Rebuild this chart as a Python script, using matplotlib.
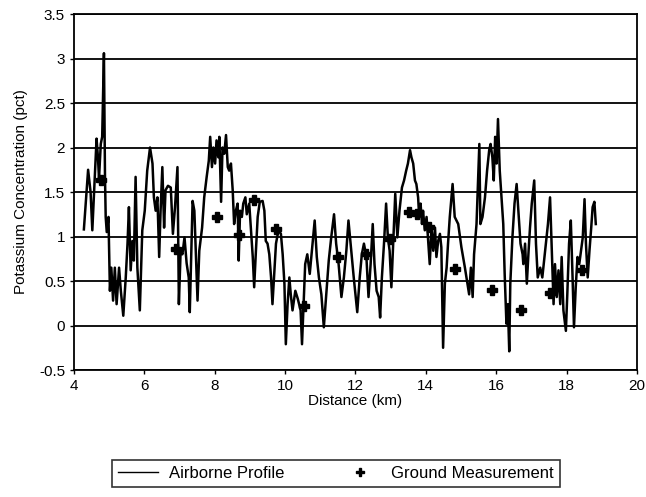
import numpy as np
import matplotlib
matplotlib.use("Agg")
import matplotlib.pyplot as plt

plt.rcParams['font.family'] = ['Liberation Sans', 'DejaVu Sans']

# airborne profile (km, pct)
dist = [4.28, 4.40, 4.47, 4.52, 4.59, 4.64, 4.68, 4.71, 4.76, 4.80, 4.85, 4.88, 4.90, 4.93,
        4.98, 4.99, 5.02, 5.06, 5.11, 5.16, 5.21, 5.28, 5.33, 5.40, 5.47, 5.52, 5.56, 5.61,
        5.66, 5.70, 5.75, 5.80, 5.87, 5.94, 6.01, 6.08, 6.16, 6.23, 6.27, 6.32, 6.37, 6.42,
        6.46, 6.51, 6.56, 6.60, 6.67, 6.75, 6.81, 6.87, 6.94, 6.98, 7.03, 7.08, 7.14, 7.20,
        7.26, 7.29, 7.37, 7.42, 7.47, 7.51, 7.56, 7.64, 7.70, 7.77, 7.83, 7.87, 7.92, 7.96,
        8.01, 8.05, 8.10, 8.13, 8.18, 8.22, 8.27, 8.32, 8.37, 8.41, 8.46, 8.51, 8.55, 8.60,
        8.65, 8.68, 8.72, 8.77, 8.81, 8.87, 8.91, 8.98, 9.03, 9.08, 9.12, 9.17, 9.22, 9.28,
        9.36, 9.41, 9.45, 9.50, 9.55, 9.60, 9.64, 9.69, 9.74, 9.81, 9.88, 9.93, 9.98, 10.02,
        10.07, 10.12, 10.16, 10.21, 10.29, 10.36, 10.44, 10.48, 10.53, 10.57, 10.63, 10.70,
        10.76, 10.84, 10.90, 10.96, 11.03, 11.10, 11.17, 11.24, 11.31, 11.39, 11.45, 11.52,
        11.60, 11.67, 11.74, 11.80, 11.88, 11.95, 12.05, 12.12, 12.18, 12.24, 12.31, 12.37,
        12.43, 12.49, 12.54, 12.60, 12.66, 12.70, 12.75, 12.81, 12.87, 12.92, 12.97, 13.02,
        13.07, 13.13, 13.19, 13.25, 13.32, 13.38, 13.44, 13.49, 13.55, 13.59, 13.64, 13.69,
        13.73, 13.78, 13.81, 13.85, 13.89, 13.92, 13.97, 14.02, 14.07, 14.11, 14.16, 14.21,
        14.26, 14.30, 14.35, 14.40, 14.44, 14.49, 14.54, 14.59, 14.63, 14.68, 14.76, 14.82,
        14.92, 15.01, 15.11, 15.17, 15.23, 15.28, 15.33, 15.37, 15.44, 15.52, 15.55, 15.61,
        15.68, 15.74, 15.80, 15.84, 15.89, 15.93, 15.97, 16.01, 16.05, 16.10, 16.15, 16.20,
        16.24, 16.29, 16.33, 16.37, 16.40, 16.46, 16.52, 16.58, 16.63, 16.69, 16.75, 16.77,
        16.82, 16.87, 16.92, 16.96, 17.01, 17.08, 17.13, 17.18, 17.25, 17.31, 17.39, 17.47,
        17.53, 17.58, 17.63, 17.67, 17.72, 17.77, 17.82, 17.86, 17.91, 17.98, 18.02, 18.07,
        18.12, 18.17, 18.21, 18.26, 18.31, 18.36, 18.41, 18.46, 18.51, 18.55, 18.60, 18.65,
        18.70, 18.74, 18.79, 18.83]
conc = [1.08, 1.75, 1.50, 1.07, 1.67, 2.10, 1.89, 1.65, 2.04, 2.12, 3.06, 1.67, 1.22, 1.05,
        1.22, 0.99, 0.39, 0.65, 0.28, 0.65, 0.24, 0.65, 0.39, 0.11, 0.54, 0.92, 1.33, 0.62,
        0.95, 0.73, 1.67, 0.65, 0.17, 1.07, 1.29, 1.74, 2.00, 1.82, 1.44, 1.29, 1.44, 0.77,
        1.29, 1.78, 1.10, 1.52, 1.57, 1.55, 1.03, 1.33, 1.78, 0.24, 0.84, 0.80, 0.99, 0.70,
        0.54, 0.15, 1.40, 1.29, 0.73, 0.28, 0.84, 1.10, 1.44, 1.67, 1.85, 2.12, 1.78, 2.00,
        1.82, 2.08, 1.89, 2.12, 1.39, 2.00, 1.93, 2.14, 1.78, 1.74, 1.82, 1.52, 1.14, 1.29,
        1.37, 0.73, 1.29, 1.22, 1.37, 1.44, 1.25, 1.37, 1.07, 0.77, 0.43, 0.84, 1.22, 1.39,
        1.40, 1.29, 0.95, 0.92, 0.80, 0.54, 0.24, 0.58, 0.92, 1.07, 1.03, 0.80, 0.47, -0.21,
        0.24, 0.54, 0.35, 0.17, 0.39, 0.30, 0.17, -0.21, 0.28, 0.69, 0.80, 0.58,
        0.84, 1.18, 0.77, 0.54, 0.35, -0.02, 0.35, 0.73, 0.99, 1.25, 0.92, 0.69,
        0.32, 0.54, 0.84, 1.18, 0.84, 0.54, 0.15, 0.54, 0.80, 0.92, 0.77, 0.32,
        0.69, 1.14, 0.69, 0.39, 0.32, 0.09, 0.54, 0.92, 1.37, 0.99, 0.84, 0.43,
        0.92, 1.48, 0.99, 1.29, 1.55, 1.63, 1.74, 1.82, 1.97, 1.89, 1.82, 1.63,
        1.59, 1.44, 1.22, 1.37, 1.14, 1.29, 1.07, 1.22, 0.92, 0.69, 1.10, 0.84,
        1.10, 0.77, 0.95, 1.03, 0.88, -0.25, 0.47, 0.65, 0.92, 1.22, 1.59, 1.22,
        1.14, 0.88, 0.65, 0.50, 0.35, 0.65, 0.32, 0.80, 1.14, 2.04, 1.14, 1.22,
        1.44, 1.74, 1.97, 2.04, 1.89, 1.63, 2.12, 1.82, 2.32, 1.74, 1.44, 1.14,
        0.58, 0.02, 0.24, -0.29, 0.47, 0.99, 1.37, 1.59, 1.29, 0.92, 0.80, 0.69,
        0.92, 0.47, 0.84, 1.10, 1.37, 1.63, 0.92, 0.54, 0.65, 0.54, 0.84, 1.14,
        1.44, 0.84, 0.24, 0.69, 0.32, 0.62, 0.24, 0.77, 0.17, -0.06, 0.35, 0.92,
        1.18, 0.54, -0.02, 0.43, 0.77, 0.69, 0.84, 0.99, 1.42, 0.92, 0.54, 0.84,
        1.10, 1.33, 1.39, 1.14]

# ground measurements
g_dist = [4.77, 6.90, 8.05, 8.68, 9.12, 9.74, 10.53, 11.50, 12.31, 12.97, 13.52, 13.75,
          14.10, 14.82, 15.89, 16.70, 17.53, 18.43]
g_conc = [1.64, 0.86, 1.22, 1.02, 1.41, 1.08, 0.22, 0.77, 0.80, 0.97, 1.28, 1.25,
          1.11, 0.63, 0.40, 0.17, 0.36, 0.62]

fig = plt.figure(figsize=(6.46, 4.97), dpi=100)
ax = fig.add_axes([0.1146, 0.2555, 0.8714, 0.7163])

ax.plot(dist, conc, color='black', lw=1.8, label='Airborne Profile', zorder=3)
ax.plot(g_dist, g_conc, linestyle='none', marker='P', color='black', ms=7,
        label='Ground Measurement', zorder=4)

ax.set_xlim(4, 20)
ax.set_ylim(-0.5, 3.5)
ax.set_xticks(np.arange(4, 21, 2))
ax.set_yticks(np.arange(-0.5, 3.51, 0.5))
ax.set_yticklabels(['-0.5', '0', '0.5', '1', '1.5', '2', '2.5', '3', '3.5'])
ax.yaxis.grid(True, color='black', lw=1.3)
ax.set_axisbelow(True)
for s in ax.spines.values():
    s.set_color('black')
    s.set_linewidth(1.3)
ax.tick_params(labelsize=11, length=3, width=1, colors='black')
ax.set_xlabel('Distance (km)', fontsize=11, labelpad=1)
ax.set_ylabel('Potassium Concentration (pct)', fontsize=11, labelpad=8)

leg = fig.legend(loc='center', bbox_to_anchor=(0.52, 0.047), ncol=2, fontsize=12,
                 frameon=True, fancybox=False, edgecolor='black', columnspacing=3.3,
                 handlelength=2.4, handletextpad=0.7, borderpad=0.35, borderaxespad=0)
leg.get_frame().set_linewidth(1.2)
leg.legend_handles[0].set_linewidth(1.0)
leg.legend_handles[1].set_markersize(6)

fig.savefig('out.png', dpi=100)
